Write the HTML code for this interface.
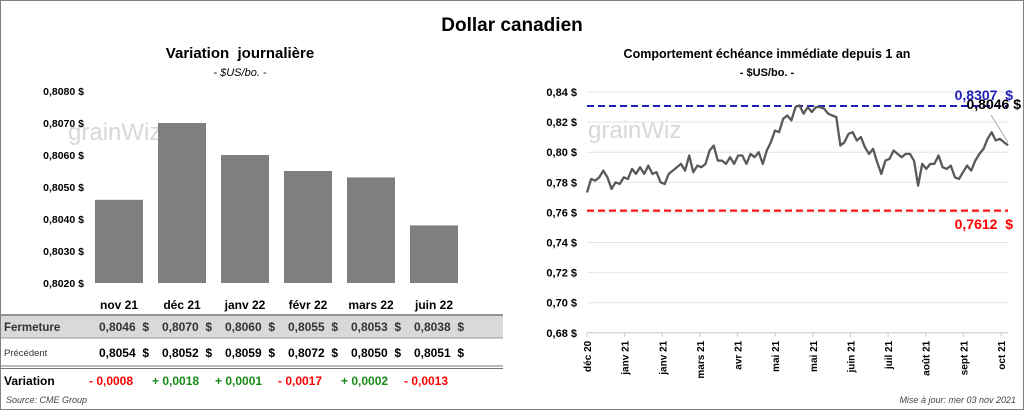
<!DOCTYPE html>
<html><head><meta charset="utf-8"><style>
body{margin:0;width:1024px;height:410px;overflow:hidden;background:#fff;font-family:"Liberation Sans",sans-serif}
svg{display:block}
text{white-space:pre}
</style></head><body>
<svg width="1024" height="410" font-family="Liberation Sans, sans-serif">
<rect x="0.5" y="0.5" width="1023" height="409" fill="#fff" stroke="#808080"/>
<text x="512" y="31" text-anchor="middle" font-size="19" font-weight="bold">Dollar canadien</text>
<text x="240" y="58" text-anchor="middle" font-size="15" font-weight="bold">Variation  journalière</text>
<text x="240" y="76" text-anchor="middle" font-size="11" font-style="italic">- $US/bo. -</text>
<text x="767" y="58" text-anchor="middle" font-size="12.5" font-weight="bold">Comportement échéance immédiate depuis 1 an</text>
<text x="767" y="76" text-anchor="middle" font-size="11" font-weight="bold">- $US/bo. -</text>
<text x="68" y="140" font-size="24" fill="#d8d8d8">grainWiz</text>
<text x="588" y="138" font-size="24" fill="#d8d8d8">grainWiz</text>
<g id="left"></g>
<g id="table"></g>
<g id="right"></g>
<text x="6" y="403" font-size="9" font-style="italic" fill="#444">Source: CME Group</text>
<text x="1016" y="403" text-anchor="end" font-size="9" font-style="italic" fill="#444">Mise à jour: mer 03 nov 2021</text>
</svg>
<script>
const NS="http://www.w3.org/2000/svg";
function mk(p,t,a,txt){const e=document.createElementNS(NS,t);for(const k in a)e.setAttribute(k,a[k]);if(txt!==undefined)e.textContent=txt;p.appendChild(e);return e;}
// ----- bar chart data
const barCats=["nov 21","déc 21","janv 22","févr 22","mars 22","juin 22"];
const closeVals=[0.8046,0.8070,0.8060,0.8055,0.8053,0.8038];
const prevVals=[0.8054,0.8052,0.8059,0.8072,0.8050,0.8051];
const changeVals=[-0.0008,0.0018,0.0001,-0.0017,0.0002,-0.0013];
const barTicks=[0.8020,0.8030,0.8040,0.8050,0.8060,0.8070,0.8080];
// ----- line chart data
const lineVals=[0.7733,0.7822,0.7811,0.7833,0.7878,0.7833,0.7756,0.78,0.7789,0.7833,0.7822,0.7889,0.7856,0.79,0.7856,0.7911,0.7856,0.7867,0.78,0.7789,0.7856,0.7878,0.79,0.7922,0.7878,0.7978,0.7867,0.7911,0.79,0.7922,0.8011,0.8044,0.7944,0.7944,0.7922,0.7967,0.7922,0.7978,0.7978,0.7922,0.7989,0.7967,0.8,0.7922,0.8011,0.8067,0.8144,0.8133,0.8222,0.8244,0.8211,0.83,0.8311,0.8256,0.83,0.8267,0.83,0.83,0.8289,0.8256,0.8244,0.8233,0.8044,0.8067,0.8122,0.8133,0.8078,0.81,0.8033,0.7989,0.8022,0.7933,0.7856,0.7944,0.7956,0.8011,0.7989,0.7967,0.7989,0.7989,0.7944,0.7778,0.7922,0.7889,0.7922,0.7922,0.7978,0.79,0.7889,0.7911,0.7833,0.7822,0.7867,0.7911,0.7878,0.7944,0.7989,0.8022,0.8089,0.8133,0.8078,0.8089,0.8067,0.8046];
const lineTicks=[0.68,0.70,0.72,0.74,0.76,0.78,0.80,0.82,0.84];
const dateLabels=["déc 20","janv 21","janv 21","mars 21","avr 21","mai 21","mai 21","juin 21","juil 21","août 21","sept 21","oct 21"];
const maxVal=0.8307, minVal=0.7612, lastVal=0.8046;
const fmt=(v,d)=>v.toFixed(d).replace(".",",");

// bar chart
const L=document.getElementById("left");
const by=v=>283-(v-0.8020)/0.001*32;
const bx0=87.5,bw=63;
barTicks.forEach(t=>{const e=mk(L,"text",{x:84,y:by(t)+4,"text-anchor":"end","font-size":10.5,"font-weight":"bold"},fmt(t,4)+" $");

});
closeVals.forEach((v,i)=>{const r=mk(L,"rect",{x:bx0+i*bw+7.5,y:by(v),width:48,height:283-by(v),fill:"#7f7f7f"});

});

// table
const T=document.getElementById("table");
mk(T,"rect",{x:1,y:315,width:502,height:23,fill:"#d9d9d9"});
mk(T,"line",{x1:1,y1:315,x2:503,y2:315,stroke:"#777","stroke-width":1.5});
mk(T,"line",{x1:1,y1:338,x2:503,y2:338,stroke:"#999"});
mk(T,"line",{x1:1,y1:366,x2:503,y2:366,stroke:"#777"});
mk(T,"line",{x1:1,y1:368.5,x2:503,y2:368.5,stroke:"#777"});
mk(T,"text",{x:4,y:331,"font-size":11.5,"font-weight":"bold",fill:"#333"},"Fermeture");
mk(T,"text",{x:4,y:356,"font-size":9.5,fill:"#333"},"Précédent");
mk(T,"text",{x:4,y:385,"font-size":12,"font-weight":"bold"},"Variation");
barCats.forEach((c,i)=>{const cx=bx0+i*bw+bw/2;
const h=mk(T,"text",{x:cx,y:309,"text-anchor":"middle","font-size":12,"font-weight":"bold"},c);


mk(T,"text",{x:cx+30,y:331,"text-anchor":"end","font-size":12,"font-weight":"bold",fill:"#333"},fmt(closeVals[i],4)+"  $");
mk(T,"text",{x:cx+30,y:357,"text-anchor":"end","font-size":12,"font-weight":"bold"},fmt(prevVals[i],4)+"  $");
const d=changeVals[i];
const s=(d<0?"- ":"+ ")+fmt(Math.abs(d),4);
mk(T,"text",{x:cx-30,y:385,"font-size":12,"font-weight":"bold",fill:d<0?"#ff0000":"#178a17"},s);});

// line chart
const R=document.getElementById("right");
const px0=587,px1=1008;
const ly=v=>92+(0.84-v)/0.02*30.1;
lineTicks.forEach(t=>{mk(R,"line",{x1:px0,y1:ly(t),x2:px1,y2:ly(t),stroke:t===0.68?"#c8c8c8":"#e4e4e4"});
const e=mk(R,"text",{x:577,y:ly(t)+4,"text-anchor":"end","font-size":11,"font-weight":"bold"},fmt(t,2)+" $");

});
const tickStep=(1001-587)/(dateLabels.length-1);
dateLabels.forEach((d,i)=>{const x=587+i*tickStep;
mk(R,"line",{x1:x,y1:ly(0.68),x2:x,y2:ly(0.68)+4,stroke:"#c8c8c8"});
const e=mk(R,"text",{x:0,y:0,"text-anchor":"end","font-size":10,"font-weight":"bold",transform:`translate(${x+4},${ly(0.68)+8}) rotate(-90)`},d);

});
const hi=mk(R,"line",{x1:px0,y1:ly(maxVal),x2:px1,y2:ly(maxVal),stroke:"#1f1fb4","stroke-width":2,"stroke-dasharray":"7,4"});


const lo=mk(R,"line",{x1:px0,y1:ly(minVal),x2:px1,y2:ly(minVal),stroke:"#ff0000","stroke-width":2,"stroke-dasharray":"7,4"});


const lx=i=>px0+i*(px1-px0)/(lineVals.length-1);
const pts=lineVals.map((v,i)=>lx(i).toFixed(1)+","+ly(v).toFixed(1)).join(" ");
const pl=mk(R,"polyline",{points:pts,fill:"none",stroke:"#595959","stroke-width":2.3,"stroke-linejoin":"round"});


mk(R,"line",{x1:991,y1:115,x2:lx(lineVals.length-1),y2:ly(lastVal)-3,stroke:"#aaa"});
const t1=mk(R,"text",{x:1013,y:100,"text-anchor":"end","font-size":14,"font-weight":"bold",fill:"#1f1fb4"},fmt(maxVal,4)+"  $");


const t2=mk(R,"text",{x:1021,y:109,"text-anchor":"end","font-size":14,"font-weight":"bold",fill:"#000"},fmt(lastVal,4)+" $");


const t3=mk(R,"text",{x:1013,y:229,"text-anchor":"end","font-size":14,"font-weight":"bold",fill:"#ff0000"},fmt(minVal,4)+"  $");


</script>
</body></html>
